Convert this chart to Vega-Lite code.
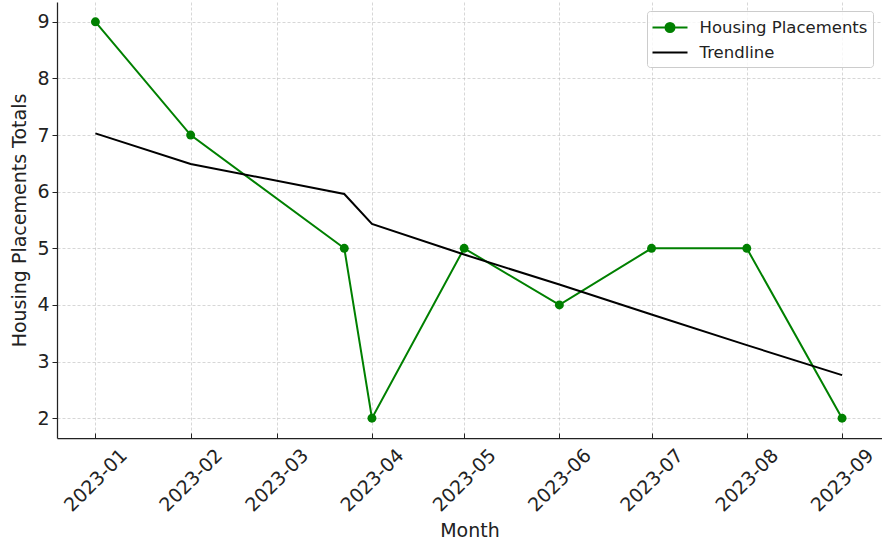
{
  "$schema": "https://vega.github.io/schema/vega-lite/v6.json",
  "width": 825,
  "height": 436,
  "autosize": {"type": "none"},
  "padding": {"left": 57, "top": 2, "right": 0, "bottom": 108},
  "background": "white",
  "config": {
    "view": {"stroke": null},
    "font": "DejaVu Sans",
    "axis": {
      "domainColor": "#222222",
      "domainWidth": 1.25,
      "tickColor": "#222222",
      "tickWidth": 1,
      "labelColor": "#222222",
      "titleColor": "#222222",
      "labelFont": "DejaVu Sans",
      "titleFont": "DejaVu Sans",
      "labelFontSize": 19,
      "titleFontSize": 19,
      "titleFontWeight": "normal",
      "gridColor": "#b8b8b8",
      "gridOpacity": 0.7,
      "gridDash": [3, 2],
      "gridWidth": 0.8
    }
  },
  "data": {
    "values": [
      {"month": "2023-01-01", "series": "Housing Placements", "value": 9},
      {"month": "2023-02-01", "series": "Housing Placements", "value": 7},
      {"month": "2023-03-23", "series": "Housing Placements", "value": 5},
      {"month": "2023-04-01", "series": "Housing Placements", "value": 2},
      {"month": "2023-05-01", "series": "Housing Placements", "value": 5},
      {"month": "2023-06-01", "series": "Housing Placements", "value": 4},
      {"month": "2023-07-01", "series": "Housing Placements", "value": 5},
      {"month": "2023-08-01", "series": "Housing Placements", "value": 5},
      {"month": "2023-09-01", "series": "Housing Placements", "value": 2},
      {"month": "2023-01-01", "series": "Trendline", "value": 7.03},
      {"month": "2023-02-01", "series": "Trendline", "value": 6.49},
      {"month": "2023-03-23", "series": "Trendline", "value": 5.96},
      {"month": "2023-04-01", "series": "Trendline", "value": 5.43},
      {"month": "2023-05-01", "series": "Trendline", "value": 4.89},
      {"month": "2023-06-01", "series": "Trendline", "value": 4.36},
      {"month": "2023-07-01", "series": "Trendline", "value": 3.83},
      {"month": "2023-08-01", "series": "Trendline", "value": 3.29},
      {"month": "2023-09-01", "series": "Trendline", "value": 2.76}
    ]
  },
  "encoding": {
    "x": {
      "field": "month",
      "type": "temporal",
      "scale": {
        "type": "utc",
        "domain": [
          {"year": 2022, "month": 12, "date": 19, "hours": 12, "utc": true},
          {"year": 2023, "month": 9, "date": 14, "hours": 0, "utc": true}
        ]
      },
      "axis": {
        "title": "Month",
        "format": "%Y-%m",
        "values": [
          {"year": 2023, "month": 1, "date": 1, "utc": true},
          {"year": 2023, "month": 2, "date": 1, "utc": true},
          {"year": 2023, "month": 3, "date": 1, "utc": true},
          {"year": 2023, "month": 4, "date": 1, "utc": true},
          {"year": 2023, "month": 5, "date": 1, "utc": true},
          {"year": 2023, "month": 6, "date": 1, "utc": true},
          {"year": 2023, "month": 7, "date": 1, "utc": true},
          {"year": 2023, "month": 8, "date": 1, "utc": true},
          {"year": 2023, "month": 9, "date": 1, "utc": true}
        ],
        "labelAngle": -45,
        "labelAlign": "center",
        "labelBaseline": "middle",
        "tickSize": -5,
        "labelPadding": 47,
        "labelFlush": false,
        "labelOverlap": false,
        "titlePadding": 6
      }
    },
    "y": {
      "field": "value",
      "type": "quantitative",
      "scale": {"domain": [1.65, 9.35], "nice": false, "zero": false},
      "axis": {
        "title": "Housing Placements Totals",
        "values": [2, 3, 4, 5, 6, 7, 8, 9],
        "tickSize": 5,
        "labelPadding": 3,
        "titlePadding": 7
      }
    },
    "color": {
      "field": "series",
      "type": "nominal",
      "scale": {"domain": ["Housing Placements", "Trendline"], "range": ["#008000", "#000000"]},
      "legend": {
        "title": null,
        "orient": "top-right",
        "offset": 9,
        "padding": 5.5,
        "labelFontSize": 16.5,
        "labelLimit": 400,
        "labelColor": "#222222",
        "labelFont": "DejaVu Sans",
        "symbolSize": 400,
        "symbolStrokeWidth": 2,
        "symbolOffset": 6.5,
        "labelOffset": 18.5,
        "rowPadding": 5,
        "strokeColor": "#cccccc",
        "fillColor": "rgba(255,255,255,0.8)",
        "cornerRadius": 3,
        "encode": {
          "symbols": {
            "update": {
              "shape": {"signal": "datum.value === 'Housing Placements' ? 'M-1.75,0H1.75M-0.45,0A0.45,0.45 0 1,0 0.45,0A0.45,0.45 0 1,0 -0.45,0Z' : 'M-1.75,0H1.75'"},
              "fill": {"signal": "datum.value === 'Housing Placements' ? '#008000' : 'transparent'"},
              "stroke": {"signal": "datum.value === 'Housing Placements' ? '#008000' : '#000000'"},
              "strokeWidth": {"value": 2},
              "opacity": {"value": 1}
            }
          }
        }
      }
    }
  },
  "layer": [
    {
      "transform": [{"filter": "datum.series === 'Housing Placements'"}],
      "mark": {"type": "line", "strokeWidth": 2, "point": {"filled": true, "size": 80, "opacity": 1}}
    },
    {
      "transform": [{"filter": "datum.series === 'Trendline'"}],
      "mark": {"type": "line", "strokeWidth": 2}
    }
  ]
}
